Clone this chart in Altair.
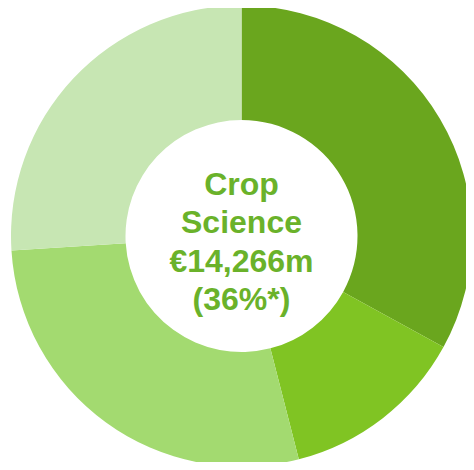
import altair as alt
import pandas as pd

segments = ["A", "B", "C", "D"]
shares = [33, 13, 28, 26]
colors = ["#6aa61e", "#80c423", "#a3da70", "#c7e6b3"]
center_lines = ["Crop", "Science", "€14,266m", "(36%*)"]

df = pd.DataFrame({"segment": segments, "share": shares, "idx": list(range(len(segments)))})
tdf = pd.DataFrame({"line": center_lines, "i": list(range(len(center_lines)))})

cx, cy = 233.5, 228

arc = alt.Chart(df).mark_arc(outerRadius=230.5, innerRadius=116, stroke=None).encode(
    theta=alt.Theta("share:Q", stack=True),
    order=alt.Order("idx:Q"),
    color=alt.Color("segment:N", scale=alt.Scale(domain=segments, range=colors), legend=None),
    x=alt.value(cx), y=alt.value(cy),
)

text = alt.Chart(tdf).mark_text(
    font="Liberation Sans", fontWeight="bold", fontSize=32, color="#6ab22a", baseline="middle", align="center"
).encode(
    text="line:N",
    x=alt.value(cx),
    y=alt.Y("i:Q", scale=alt.Scale(domain=[0, 3], range=[cy - 51, cy + 64]), axis=None),
)

chart = alt.layer(arc, text).properties(
    width=458, height=454, padding=0, autosize=alt.AutoSizeParams(type="none")
).configure_view(stroke=None)

chart.save("out.html", embed_options={"renderer": "svg", "actions": False})
